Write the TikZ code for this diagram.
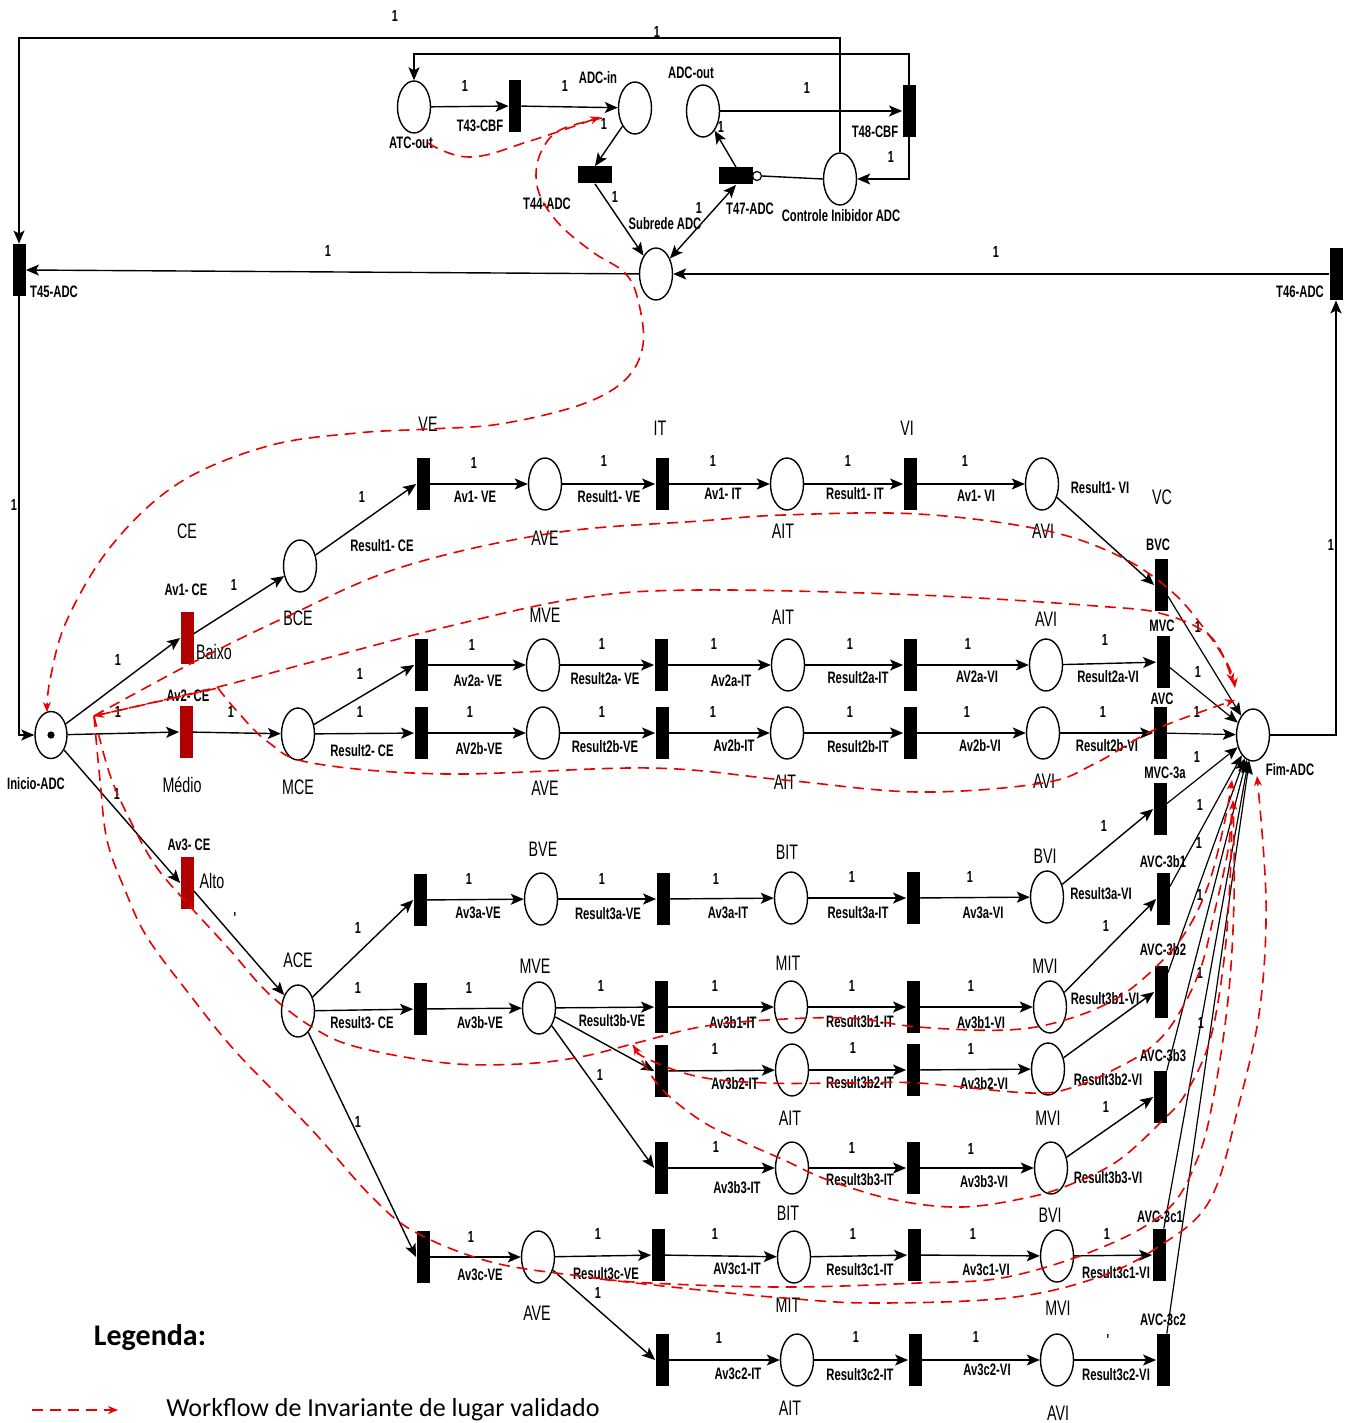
\documentclass[tikz,border=0pt]{standalone}
\usepackage{fontspec}
\setmainfont{Liberation Sans}
\newfontfamily\nar[FakeStretch=0.68]{Liberation Sans}
\newfontfamily\leg{Carlito}
\usetikzlibrary{shapes.geometric,arrows.meta}
\definecolor{rtc}{RGB}{178,0,0}
\definecolor{invred}{RGB}{235,0,0}
\newcounter{lc}
\newcommand\Lb[3][lab]{\stepcounter{lc}\node[#1] (l\arabic{lc}) at (#2) {#3};}
\newcommand\W[2][1]{\stepcounter{lc}\node[wt] (l\arabic{lc}) at (#2) {#1};}
\tikzset{
 place/.style={ellipse, draw, line width=0.7pt, minimum width=16.5pt, minimum height=26pt, inner sep=0pt},
 trans/.style={rectangle, fill=black, minimum width=6.5pt, minimum height=26pt, inner sep=0pt},
 rtrans/.style={rectangle, fill=rtc, minimum width=6.5pt, minimum height=26pt, inner sep=0pt},
 htrans/.style={rectangle, fill=black, minimum width=17pt, minimum height=8.5pt, inner sep=0pt},
 arc/.style={draw, line width=0.7pt, -{Stealth[length=6.5pt,width=5.5pt,inset=1.5pt]}},
 arcb/.style={draw, line width=0.7pt, {Stealth[length=6.5pt,width=5.5pt,inset=1.5pt]}-{Stealth[length=6.5pt,width=5.5pt,inset=1.5pt]}},
 lab/.style={font={\nar\bfseries\fontsize{8.3}{9}\selectfont}, inner sep=0pt},
 big/.style={font={\nar\fontsize{10.5}{12}\selectfont}, inner sep=0pt},
 wt/.style={font={\nar\bfseries\fontsize{8}{9}\selectfont}, inner sep=0pt},
 inv/.style={draw=invred, line width=0.8pt, dash pattern=on 5.5pt off 3.5pt},
 rtip/.style={-{Stealth[length=5pt,width=4pt]}},
 rtipb/.style={{Stealth[length=5pt,width=4pt]}-},
}
\begin{document}
\begin{tikzpicture}[x=0.5pt,y=-0.5pt]
\fill[white] (0,0) rectangle (1347,1423);
\useasboundingbox (0,0) rectangle (1347,1423);

% ---------- top subnet ----------
\node[place] (ATCout) at (414,107) {};
\node[trans, minimum width=6pt] (T43) at (515,106) {};
\node[place] (ADCin) at (635,108) {};
\node[htrans] (T44) at (595,175) {};
\node[place] (Sub) at (656,274) {};
\node[htrans] (T47) at (736,176) {};
\node[circle, draw, line width=0.6pt, minimum size=4.5pt, inner sep=0pt] (inh) at (757,176) {};
\node[place] (ADCout) at (703,111) {};
\node[trans] (T48) at (909,111) {};
\node[place] (Ctrl) at (840,179) {};
\node[trans] (T45) at (19,270) {};
\node[trans] (T46) at (1336,274) {};
\coordinate (topA) at (0,38);
\coordinate (topB) at (0,54);

\Lb{411,143}{ATC-out}
\Lb{480,126}{T43-CBF}
\Lb{598,78}{ADC-in}
\Lb{547,204}{T44-ADC}
\Lb{665,224}{Subrede ADC}
\Lb{750,209}{T47-ADC}
\Lb{691,73}{ADC-out}
\Lb{875,132}{T48-CBF}
\Lb{841,216}{Controle Inibidor ADC}
\Lb{54,292}{T45-ADC}
\Lb{1300,292}{T46-ADC}
\W{465,86} \W{565,86} \W{604,124} \W{615,197} \W{699,208} \W{721,127}
\W{807,88} \W{891,157} \W{395,16} \W{657,32} \W{328,251} \W{996,252}
\W{14,505} \W{1331,545}

% ---------- main net nodes ----------
\node[place, minimum width=16pt, minimum height=23.5pt] (Inicio) at (51,735) {};
\fill (Inicio.center) circle[radius=1.8pt];
\node[rtrans] (Baixo) at (187,638) {};
\node[rtrans] (Medio) at (186,732) {};
\node[rtrans] (Alto) at (187,883) {};
\node[place] (BCE) at (300,566) {};
\node[place] (MCE) at (298,734) {};
\node[place] (ACE) at (298,1011) {};
% row 1
\node[trans] (T1VE) at (423,484) {};
\node[place] (AVE1) at (545,484) {};
\node[trans] (T1IT) at (662,484) {};
\node[place] (AIT1) at (787,484) {};
\node[trans] (T1VI) at (910,484) {};
\node[place] (AVI1) at (1042,484) {};
\node[trans] (BVC) at (1161,585) {};
% row 2a
\node[trans] (T2aVE) at (421,665) {};
\node[place] (MVE2) at (543,665) {};
\node[trans] (T2aIT) at (661,665) {};
\node[place] (AIT2a) at (788,665) {};
\node[trans] (T2aVI) at (910,665) {};
\node[place] (AVI2a) at (1046,665) {};
\node[trans] (MVC) at (1163,662) {};
% row 2b
\node[trans] (T2bVE) at (421,733) {};
\node[place] (AVE2) at (543,733) {};
\node[trans] (T2bIT) at (662,733) {};
\node[place] (AIT2b) at (787,733) {};
\node[trans] (T2bVI) at (910,733) {};
\node[place] (AVI2b) at (1043,733) {};
\node[trans] (AVC) at (1160,733) {};
\node[trans] (MVC3a) at (1160,809) {};
% row 3a
\node[trans] (T3aVE) at (420,900) {};
\node[place] (BVE) at (541,899) {};
\node[trans] (T3aIT) at (663,899) {};
\node[place] (BIT3a) at (791,898) {};
\node[trans] (T3aVI) at (913,898) {};
\node[place] (BVI3a) at (1047,897) {};
\node[trans] (AVC3b1) at (1163,899) {};
% row 3b1
\node[trans] (T3bVE) at (420,1009) {};
\node[place] (MVE3) at (539,1008) {};
\node[trans] (T3b1IT) at (661,1007) {};
\node[place] (MIT3b1) at (791,1007) {};
\node[trans] (T3b1VI) at (913,1007) {};
\node[place] (MVI3b1) at (1050,1007) {};
\node[trans] (AVC3b2) at (1161,992) {};
% row 3b2
\node[trans] (T3b2IT) at (661,1071) {};
\node[place] (AIT3b2) at (792,1070) {};
\node[trans] (T3b2VI) at (913,1070) {};
\node[place] (MVI3b2) at (1048,1069) {};
\node[trans] (AVC3b3) at (1160,1097) {};
% row 3b3
\node[trans] (T3b3IT) at (661,1168) {};
\node[place] (BIT3b3) at (792,1168) {};
\node[trans] (T3b3VI) at (913,1168) {};
\node[place] (MVI3b3) at (1051,1168) {};
% row 3c1
\node[trans] (T3cVE) at (423,1257) {};
\node[place] (AVE3) at (538,1257) {};
\node[trans] (T3c1IT) at (658,1255) {};
\node[place] (BIT3c1) at (794,1257) {};
\node[trans] (T3c1VI) at (914,1255) {};
\node[place] (BVI3c1) at (1057,1256) {};
\node[trans] (AVC3c1) at (1159,1255) {};
% row 3c2
\node[trans] (T3c2IT) at (662,1360) {};
\node[place] (AIT3c2) at (797,1360) {};
\node[trans] (T3c2VI) at (915,1360) {};
\node[place] (AVI3c2) at (1057,1360) {};
\node[trans] (AVC3c2) at (1163,1360) {};
\node[place] (Fim) at (1253,735) {};

% ---------- top arcs ----------
\draw[arc] (ATCout) -- (T43);
\draw[arc] (T43) -- (ADCin);
\draw[arc] (ADCin) -- (T44.north);
\draw[arc] (T44.south) -- (Sub);
\draw[arcb] (Sub) -- (T47.south);
\draw[arc] (T47.north) -- (ADCout);
\draw[arc] (ADCout) -- (T48);
\draw[arc] (T48.south) |- (Ctrl.east);
\draw[arc] (Ctrl.north) -- (Ctrl.north |- topA) -| (T45.north);
\draw[arc] (T48.north) -- (T48.north |- topB) -| (ATCout.north);
\draw[arc] (Sub) -- (T45.east);
\draw[arc] (T46.west) -- (Sub);
\draw[arc] (T45.south) |- (Inicio.west);
\draw[arc] (Fim.east) -| (T46.south);
\draw[line width=0.7pt] (Ctrl.west) -- (inh.east);

% ---------- main arcs ----------
\draw[arc] (Inicio) -- (Baixo.west);
\draw[arc] (Inicio) -- (Medio.west);
\draw[arc] (Inicio) -- (Alto.west);
\draw[arc] (Baixo) -- (BCE);
\draw[arc] (Medio) -- (MCE);
\draw[arc] (Alto) -- (ACE);
\draw[arc] (BCE) -- (T1VE.west);
\draw[arc] (T1VE) -- (AVE1); \draw[arc] (AVE1) -- (T1IT); \draw[arc] (T1IT) -- (AIT1);
\draw[arc] (AIT1) -- (T1VI); \draw[arc] (T1VI) -- (AVI1); \draw[arc] (AVI1) -- (BVC.west);
\draw[arc] (MCE) -- (T2aVE.west); \draw[arc] (MCE) -- (T2bVE);
\draw[arc] (T2aVE) -- (MVE2); \draw[arc] (MVE2) -- (T2aIT); \draw[arc] (T2aIT) -- (AIT2a);
\draw[arc] (AIT2a) -- (T2aVI); \draw[arc] (T2aVI) -- (AVI2a); \draw[arc] (AVI2a) -- (MVC);
\draw[arc] (T2bVE) -- (AVE2); \draw[arc] (AVE2) -- (T2bIT); \draw[arc] (T2bIT) -- (AIT2b);
\draw[arc] (AIT2b) -- (T2bVI); \draw[arc] (T2bVI) -- (AVI2b); \draw[arc] (AVI2b) -- (AVC);
\draw[arc] (ACE) -- (T3aVE.west); \draw[arc] (ACE) -- (T3bVE); \draw[arc] (ACE) -- (T3cVE.west);
\draw[arc] (T3aVE) -- (BVE); \draw[arc] (BVE) -- (T3aIT); \draw[arc] (T3aIT) -- (BIT3a);
\draw[arc] (BIT3a) -- (T3aVI); \draw[arc] (T3aVI) -- (BVI3a); \draw[arc] (BVI3a) -- (MVC3a.west);
\draw[arc] (T3bVE) -- (MVE3); \draw[arc] (MVE3) -- (T3b1IT); \draw[arc] (T3b1IT) -- (MIT3b1);
\draw[arc] (MIT3b1) -- (T3b1VI); \draw[arc] (T3b1VI) -- (MVI3b1); \draw[arc] (MVI3b1) -- (AVC3b1.west);
\draw[arc] (MVE3) -- (T3b2IT.west); \draw[arc] (T3b2IT) -- (AIT3b2); \draw[arc] (AIT3b2) -- (T3b2VI);
\draw[arc] (T3b2VI) -- (MVI3b2); \draw[arc] (MVI3b2) -- (AVC3b2.west);
\draw[arc] (MVE3) -- (T3b3IT.west); \draw[arc] (T3b3IT) -- (BIT3b3); \draw[arc] (BIT3b3) -- (T3b3VI);
\draw[arc] (T3b3VI) -- (MVI3b3); \draw[arc] (MVI3b3) -- (AVC3b3.west);
\draw[arc] (T3cVE) -- (AVE3); \draw[arc] (AVE3) -- (T3c1IT); \draw[arc] (T3c1IT) -- (BIT3c1);
\draw[arc] (BIT3c1) -- (T3c1VI); \draw[arc] (T3c1VI) -- (BVI3c1); \draw[arc] (BVI3c1) -- (AVC3c1);
\draw[arc] (AVE3) -- (T3c2IT.west); \draw[arc] (T3c2IT) -- (AIT3c2); \draw[arc] (AIT3c2) -- (T3c2VI);
\draw[arc] (T3c2VI) -- (AVI3c2); \draw[arc] (AVI3c2) -- (AVC3c2);
\foreach \t in {BVC,MVC,AVC,MVC3a,AVC3b1,AVC3b2,AVC3b3,AVC3c1,AVC3c2}
  \draw[arc, line width=0.6pt] (\t) -- (Fim);

% ---------- main labels ----------
\Lb{36,784}{Inicio-ADC}
\Lb{1290,770}{Fim-ADC}
\Lb[big]{187,531}{CE}
\Lb{186,590}{Av1- CE}
\Lb[big]{214,652}{Baixo}
\Lb{188,696}{Av2- CE}
\Lb[big]{182,785}{Médio}
\Lb{189,845}{Av3- CE}
\Lb[big]{212,881}{Alto}
\Lb[big]{298,618}{BCE}
\Lb[big]{298,787}{MCE}
\Lb[big]{298,960}{ACE}
\W{118,660} \W{118,712} \W{117,794} \W{234,585} \W{231,712} \W[']{235,918}
% row 1
\Lb[big]{428,424}{VE} \Lb[big]{660,428}{IT} \Lb[big]{907,428}{VI}
\Lb[big]{545,538}{AVE} \Lb[big]{783,531}{AIT} \Lb[big]{1043,531}{AVI}
\Lb[big]{1162,497}{VC} \Lb{1158,545}{BVC}
\W{362,497} \Lb{382,546}{Result1- CE}
\W{474,463} \Lb{475,497}{Av1- VE}
\W{604,461} \Lb{609,497}{Result1- VE}
\W{713,461} \Lb{723,494}{Av1- IT}
\W{848,461} \Lb{855,494}{Result1- IT}
\W{965,461} \Lb{976,496}{Av1- VI}
\Lb{1100,488}{Result1- VI}
% row 2a
\Lb[big]{545,615}{MVE} \Lb[big]{783,617}{AIT} \Lb[big]{1046,619}{AVI} \Lb{1162,626}{MVC}
\W{360,674}
\W{472,645} \Lb{478,681}{Av2a- VE}
\W{602,644} \Lb{605,679}{Result2a- VE}
\W{714,644} \Lb{731,681}{Av2a-IT}
\W{850,644} \Lb{858,678}{Result2a-IT}
\W{968,644} \Lb{977,677}{AV2a-VI}
\W{1105,640} \Lb{1108,677}{Result2a-VI}
% row 2b
\Lb[big]{545,788}{AVE} \Lb[big]{785,782}{AIT} \Lb[big]{1044,781}{AVI} \Lb{1162,699}{AVC}
\W{360,712} \Lb{362,751}{Result2- CE}
\W{470,712} \Lb{479,749}{AV2b-VE}
\W{602,712} \Lb{605,747}{Result2b-VE}
\W{713,712} \Lb{734,746}{Av2b-IT}
\W{850,712} \Lb{858,747}{Result2b-IT}
\W{967,712} \Lb{980,746}{Av2b-VI}
\W{1103,712} \Lb{1107,746}{Result2b-VI}
\Lb{1165,773}{MVC-3a}
% weights to Fim
\W{1198,627} \W{1198,672} \W{1197,712} \W{1197,757} \W{1200,805} \W{1199,843}
\W{1200,895} \W{1200,973} \W{1201,1023}
% row 3a
\Lb[big]{543,849}{BVE} \Lb[big]{787,852}{BIT} \Lb[big]{1045,856}{BVI} \Lb{1163,862}{AVC-3b1}
\W{358,928}
\W{469,879} \Lb{478,913}{Av3a-VE}
\W{602,879} \Lb{608,914}{Result3a-VE}
\W{716,879} \Lb{728,913}{Av3a-IT}
\W{852,877} \Lb{858,913}{Result3a-IT}
\W{970,877} \Lb{983,913}{Av3a-VI}
\W{1104,826} \Lb{1101,894}{Result3a-VI}
% row 3b1
\Lb[big]{535,966}{MVE} \Lb[big]{788,963}{MIT} \Lb[big]{1045,966}{MVI} \Lb{1163,950}{AVC-3b2}
\W{358,988} \Lb{362,1023}{Result3- CE}
\W{469,988} \Lb{480,1023}{Av3b-VE}
\W{601,986} \Lb{612,1021}{Result3b-VE}
\W{715,986} \Lb{733,1023}{Av3b1-IT}
\W{852,986} \Lb{860,1022}{Result3b1-IT}
\W{971,986} \Lb{981,1023}{Av3b1-VI}
\W{1106,926} \Lb{1105,999}{Result3b1-VI}
% row 3b2
\Lb[big]{790,1118}{AIT} \Lb[big]{1048,1118}{MVI} \Lb{1163,1056}{AVC-3b3}
\W{715,1049} \Lb{735,1084}{Av3b2-IT}
\W{853,1048} \Lb{860,1083}{Result3b2-IT}
\W{971,1049} \Lb{984,1084}{Av3b2-VI}
\Lb{1108,1080}{Result3b2-VI}
% row 3b3
\Lb[big]{788,1213}{BIT} \Lb[big]{1050,1215}{BVI}
\W{600,1075}
\W{716,1147} \Lb{737,1188}{Av3b3-IT}
\W{852,1148} \Lb{860,1180}{Result3b3-IT}
\W{971,1149} \Lb{984,1182}{Av3b3-VI}
\W{1106,1107} \Lb{1108,1178}{Result3b3-VI}
% row 3c1
\Lb[big]{537,1313}{AVE} \Lb{1160,1217}{AVC-3c1}
\W{358,1122}
\W{471,1237} \Lb{480,1275}{Av3c-VE}
\W{598,1234} \Lb{606,1274}{Result3c-VE}
\W{715,1234} \Lb{737,1269}{AV3c1-IT}
\W{853,1234} \Lb{860,1270}{Result3c1-IT}
\W{973,1234} \Lb{986,1270}{Av3c1-VI}
\W{1107,1234} \Lb{1116,1273}{Result3c1-VI}
% row 3c2
\Lb[big]{788,1305}{MIT} \Lb[big]{1058,1308}{MVI} \Lb[big]{790,1408}{AIT} \Lb[big]{1058,1413}{AVI}
\Lb{1163,1320}{AVC-3c2}
\W{598,1293}
\W{719,1338} \Lb{738,1374}{Av3c2-IT}
\W{856,1337} \Lb{860,1375}{Result3c2-IT}
\W{976,1337} \Lb{987,1370}{Av3c2-VI}
\W[']{1108,1340} \Lb{1116,1375}{Result3c2-VI}

% ---------- invariant workflows (red dashed) ----------
\coordinate (hub) at (94,716);
\coordinate (corner) at (218,688);
\coordinate (split) at (633,1045);
\draw[inv, rtip] plot[smooth, tension=0.7] coordinates {(428,143) (470,157) (530,141) (600,117)};
\draw[inv, rtip] plot[smooth, tension=0.6] coordinates {(602,118) (560,130) (542,150) (536,175) (542,200) (562,227) (594,253) (625,273) (638,300) (643,345) (625,380) (580,405) (500,424) (430,429) (357,433) (268,446) (179,483) (112,545) (67,620) (50,680) (47,712)};
\draw[inv, rtip] plot[smooth, tension=0.6] coordinates {(hub) (192,663) (286,617) (402,567) (553,533) (700,521) (784,515) (918,514) (1043,530) (1119,556) (1170,590) (1203,627) (1228,665) (1235,688)};
\draw[inv, rtip] plot[smooth, tension=0.6] coordinates {(hub) (214,688) (312,662) (446,627) (580,598) (700,590) (918,595) (1096,606) (1163,614) (1212,638) (1233,683)};
\draw[inv, rtipb] (hub) -- (corner);
\draw[inv, rtip] plot[smooth, tension=0.6] coordinates {(corner) (236,710) (268,742) (312,763) (446,774) (650,768) (784,780) (918,792) (1043,783) (1096,763) (1154,730) (1235,700)};
\draw[inv, rtip] plot[smooth, tension=0.6] coordinates {(hub) (110,775) (130,820) (155,865) (187,903) (230,950) (268,993) (312,1027) (357,1047) (446,1063) (520,1064) (580,1057) (640,1042) (700,1027) (767,1020) (850,1018) (918,1027) (1007,1030) (1065,1020) (1119,997) (1163,960) (1190,925) (1210,880) (1225,820) (1232,780)};
\draw[inv, rtip] plot[smooth, tension=0.6] coordinates {(hub) (100,780) (107,840) (125,890) (147,937) (190,995) (237,1053) (312,1130) (370,1195) (415,1232) (491,1262) (580,1276) (650,1283) (784,1287) (918,1283) (1007,1277) (1103,1247) (1167,1210) (1197,1160) (1213,1100) (1228,1000) (1234,900) (1233,800)};
\draw[inv, rtip] plot[smooth, tension=0.6] coordinates {(600,1279) (700,1290) (784,1298) (873,1303) (1007,1298) (1096,1278) (1158,1247) (1210,1200) (1240,1100) (1260,1007) (1266,900) (1257,776)};
\draw[inv, rtipb] plot[smooth, tension=0.6] coordinates {(split) (650,1060) (700,1077) (767,1083) (850,1083) (918,1083) (1030,1093) (1074,1087) (1119,1067) (1150,1048) (1175,1020) (1200,970) (1215,910) (1228,850) (1232,805)};
\draw[inv] plot[smooth, tension=0.6] coordinates {(split) (660,1087) (700,1120) (739,1140) (784,1160) (828,1180) (895,1200) (962,1207) (1030,1197) (1074,1183) (1119,1160) (1163,1120) (1186,1093) (1210,1040) (1224,960) (1230,880) (1232,815)};

% ---------- legend ----------
\node[font={\leg\bfseries\fontsize{15}{18}\selectfont}, inner sep=0pt] (legT) at (150,1337) {Legenda:};
\coordinate (legA) at (32,1410);
\coordinate (legB) at (118,1410);
\draw[inv, rtip] (legA) -- (legB);
\node[font={\leg\fontsize{13}{15}\selectfont}, inner sep=0pt] (legD) at (383,1410) {Workflow de Invariante de lugar validado};
\end{tikzpicture}
\end{document}
